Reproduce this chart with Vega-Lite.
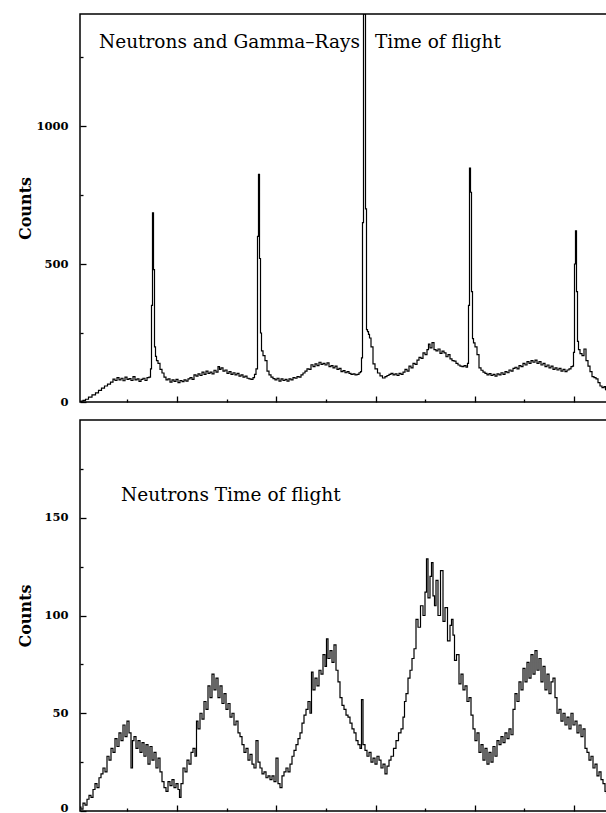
{
  "$schema": "https://vega.github.io/schema/vega-lite/v6.json",
  "background": "white",
  "padding": {"left": 16, "top": 13, "right": 1, "bottom": 1},
  "spacing": 10,
  "config": {
    "view": {"stroke": "black", "strokeWidth": 1.5},
    "axis": {"labelFont": "DejaVu Serif", "labelFontWeight": "bold", "labelFontSize": 11.5, "labelColor": "black", "titleFont": "DejaVu Serif", "titleFontWeight": "bold", "titleFontSize": 16, "titleColor": "black", "tickColor": "black", "tickWidth": 1.3, "grid": false, "domain": false}
  },
  "datasets": {
    "top": [
      {"channel":0,"counts":0},{"channel":4,"counts":3},{"channel":8,"counts":6},{"channel":14,"counts":10},{"channel":20,"counts":18},{"channel":28,"counts":26},{"channel":34,"counts":33},{"channel":40,"counts":42},{"channel":46,"counts":50},{"channel":52,"counts":58},{"channel":58,"counts":65},{"channel":64,"counts":72},{"channel":68,"counts":83},{"channel":72,"counts":78},{"channel":76,"counts":88},{"channel":80,"counts":80},{"channel":84,"counts":86},{"channel":88,"counts":77},{"channel":92,"counts":90},{"channel":96,"counts":82},{"channel":100,"counts":85},{"channel":104,"counts":78},{"channel":108,"counts":92},{"channel":112,"counts":80},{"channel":116,"counts":84},{"channel":120,"counts":75},{"channel":124,"counts":82},{"channel":128,"counts":86},{"channel":132,"counts":78},{"channel":136,"counts":88},{"channel":140,"counts":90},{"channel":142,"counts":120},{"channel":144,"counts":350},{"channel":146,"counts":685},{"channel":148,"counts":480},{"channel":150,"counts":200},{"channel":152,"counts":165},{"channel":154,"counts":150},{"channel":158,"counts":140},{"channel":162,"counts":118},{"channel":166,"counts":105},{"channel":170,"counts":90},{"channel":174,"counts":80},{"channel":178,"counts":84},{"channel":182,"counts":72},{"channel":186,"counts":80},{"channel":190,"counts":75},{"channel":194,"counts":82},{"channel":198,"counts":70},{"channel":202,"counts":78},{"channel":206,"counts":74},{"channel":210,"counts":80},{"channel":214,"counts":76},{"channel":218,"counts":84},{"channel":222,"counts":88},{"channel":226,"counts":82},{"channel":230,"counts":98},{"channel":234,"counts":94},{"channel":238,"counts":102},{"channel":242,"counts":96},{"channel":246,"counts":108},{"channel":250,"counts":100},{"channel":254,"counts":112},{"channel":258,"counts":104},{"channel":262,"counts":108},{"channel":266,"counts":102},{"channel":270,"counts":115},{"channel":274,"counts":108},{"channel":278,"counts":128},{"channel":280,"counts":118},{"channel":284,"counts":124},{"channel":288,"counts":112},{"channel":292,"counts":116},{"channel":296,"counts":104},{"channel":300,"counts":110},{"channel":304,"counts":100},{"channel":308,"counts":106},{"channel":312,"counts":98},{"channel":316,"counts":104},{"channel":320,"counts":94},{"channel":324,"counts":98},{"channel":328,"counts":90},{"channel":332,"counts":94},{"channel":336,"counts":86},{"channel":340,"counts":84},{"channel":344,"counts":82},{"channel":348,"counts":88},{"channel":350,"counts":100},{"channel":354,"counts":120},{"channel":356,"counts":600},{"channel":358,"counts":825},{"channel":360,"counts":520},{"channel":362,"counts":250},{"channel":364,"counts":185},{"channel":368,"counts":168},{"channel":372,"counts":150},{"channel":376,"counts":112},{"channel":380,"counts":98},{"channel":384,"counts":90},{"channel":388,"counts":85},{"channel":392,"counts":80},{"channel":396,"counts":86},{"channel":400,"counts":76},{"channel":404,"counts":84},{"channel":408,"counts":78},{"channel":412,"counts":82},{"channel":416,"counts":76},{"channel":420,"counts":84},{"channel":424,"counts":80},{"channel":428,"counts":88},{"channel":432,"counts":86},{"channel":436,"counts":92},{"channel":440,"counts":90},{"channel":444,"counts":98},{"channel":448,"counts":105},{"channel":452,"counts":112},{"channel":456,"counts":120},{"channel":460,"counts":118},{"channel":464,"counts":135},{"channel":468,"counts":128},{"channel":472,"counts":138},{"channel":476,"counts":132},{"channel":480,"counts":144},{"channel":484,"counts":136},{"channel":488,"counts":140},{"channel":492,"counts":134},{"channel":496,"counts":142},{"channel":500,"counts":128},{"channel":504,"counts":132},{"channel":508,"counts":124},{"channel":512,"counts":130},{"channel":516,"counts":118},{"channel":520,"counts":122},{"channel":524,"counts":110},{"channel":528,"counts":114},{"channel":532,"counts":106},{"channel":536,"counts":110},{"channel":540,"counts":104},{"channel":544,"counts":100},{"channel":548,"counts":102},{"channel":552,"counts":98},{"channel":556,"counts":100},{"channel":560,"counts":106},{"channel":562,"counts":110},{"channel":564,"counts":160},{"channel":566,"counts":650},{"channel":568,"counts":1406},{"channel":570,"counts":1406},{"channel":572,"counts":700},{"channel":574,"counts":262},{"channel":576,"counts":255},{"channel":578,"counts":245},{"channel":580,"counts":232},{"channel":584,"counts":200},{"channel":588,"counts":138},{"channel":592,"counts":120},{"channel":598,"counts":105},{"channel":602,"counts":95},{"channel":608,"counts":87},{"channel":612,"counts":92},{"channel":616,"counts":96},{"channel":620,"counts":100},{"channel":624,"counts":104},{"channel":628,"counts":98},{"channel":632,"counts":102},{"channel":636,"counts":96},{"channel":640,"counts":104},{"channel":644,"counts":100},{"channel":648,"counts":108},{"channel":652,"counts":118},{"channel":656,"counts":112},{"channel":660,"counts":130},{"channel":664,"counts":124},{"channel":668,"counts":140},{"channel":672,"counts":136},{"channel":676,"counts":152},{"channel":680,"counts":162},{"channel":684,"counts":158},{"channel":688,"counts":178},{"channel":692,"counts":172},{"channel":696,"counts":190},{"channel":698,"counts":210},{"channel":702,"counts":196},{"channel":706,"counts":215},{"channel":710,"counts":190},{"channel":714,"counts":185},{"channel":718,"counts":192},{"channel":722,"counts":176},{"channel":726,"counts":184},{"channel":730,"counts":178},{"channel":734,"counts":164},{"channel":738,"counts":172},{"channel":742,"counts":156},{"channel":746,"counts":150},{"channel":750,"counts":148},{"channel":754,"counts":140},{"channel":758,"counts":134},{"channel":762,"counts":130},{"channel":766,"counts":128},{"channel":770,"counts":132},{"channel":774,"counts":126},{"channel":776,"counts":140},{"channel":778,"counts":350},{"channel":780,"counts":848},{"channel":782,"counts":760},{"channel":784,"counts":400},{"channel":786,"counts":230},{"channel":788,"counts":214},{"channel":792,"counts":200},{"channel":796,"counts":172},{"channel":800,"counts":124},{"channel":804,"counts":115},{"channel":808,"counts":108},{"channel":812,"counts":104},{"channel":816,"counts":98},{"channel":820,"counts":103},{"channel":824,"counts":96},{"channel":828,"counts":100},{"channel":832,"counts":94},{"channel":836,"counts":102},{"channel":840,"counts":98},{"channel":844,"counts":106},{"channel":848,"counts":100},{"channel":852,"counts":110},{"channel":856,"counts":106},{"channel":860,"counts":116},{"channel":864,"counts":112},{"channel":868,"counts":122},{"channel":872,"counts":126},{"channel":876,"counts":120},{"channel":880,"counts":132},{"channel":884,"counts":128},{"channel":888,"counts":140},{"channel":892,"counts":134},{"channel":896,"counts":146},{"channel":900,"counts":140},{"channel":904,"counts":150},{"channel":908,"counts":144},{"channel":912,"counts":152},{"channel":916,"counts":140},{"channel":920,"counts":146},{"channel":924,"counts":134},{"channel":928,"counts":140},{"channel":932,"counts":128},{"channel":936,"counts":134},{"channel":940,"counts":124},{"channel":944,"counts":130},{"channel":948,"counts":118},{"channel":952,"counts":124},{"channel":956,"counts":116},{"channel":960,"counts":122},{"channel":964,"counts":112},{"channel":968,"counts":118},{"channel":972,"counts":110},{"channel":976,"counts":116},{"channel":980,"counts":120},{"channel":984,"counts":128},{"channel":986,"counts":130},{"channel":988,"counts":180},{"channel":990,"counts":500},{"channel":992,"counts":620},{"channel":994,"counts":400},{"channel":996,"counts":220},{"channel":998,"counts":190},{"channel":1002,"counts":175},{"channel":1006,"counts":168},{"channel":1010,"counts":192},{"channel":1014,"counts":150},{"channel":1018,"counts":130},{"channel":1022,"counts":110},{"channel":1026,"counts":92},{"channel":1030,"counts":88},{"channel":1034,"counts":84},{"channel":1038,"counts":70},{"channel":1042,"counts":58},{"channel":1046,"counts":52},{"channel":1050,"counts":56},{"channel":1052,"counts":45},{"channel":1054,"counts":42}
    ],
    "bottom": [
      {"channel":0,"counts":2},{"channel":4,"counts":1},{"channel":8,"counts":4},{"channel":12,"counts":3},{"channel":16,"counts":6},{"channel":20,"counts":8},{"channel":24,"counts":7},{"channel":28,"counts":11},{"channel":32,"counts":14},{"channel":36,"counts":12},{"channel":40,"counts":17},{"channel":44,"counts":19},{"channel":48,"counts":22},{"channel":52,"counts":20},{"channel":56,"counts":28},{"channel":60,"counts":26},{"channel":64,"counts":32},{"channel":68,"counts":30},{"channel":72,"counts":37},{"channel":76,"counts":33},{"channel":80,"counts":40},{"channel":84,"counts":36},{"channel":88,"counts":44},{"channel":92,"counts":38},{"channel":96,"counts":46},{"channel":100,"counts":40},{"channel":104,"counts":22},{"channel":106,"counts":36},{"channel":110,"counts":38},{"channel":114,"counts":32},{"channel":118,"counts":36},{"channel":122,"counts":30},{"channel":126,"counts":35},{"channel":130,"counts":28},{"channel":134,"counts":34},{"channel":138,"counts":24},{"channel":142,"counts":33},{"channel":146,"counts":26},{"channel":150,"counts":30},{"channel":154,"counts":22},{"channel":158,"counts":27},{"channel":162,"counts":20},{"channel":166,"counts":15},{"channel":170,"counts":12},{"channel":174,"counts":10},{"channel":178,"counts":15},{"channel":182,"counts":13},{"channel":186,"counts":16},{"channel":190,"counts":12},{"channel":194,"counts":14},{"channel":198,"counts":11},{"channel":200,"counts":7},{"channel":204,"counts":14},{"channel":208,"counts":22},{"channel":212,"counts":20},{"channel":216,"counts":26},{"channel":220,"counts":24},{"channel":224,"counts":30},{"channel":228,"counts":32},{"channel":232,"counts":28},{"channel":234,"counts":46},{"channel":238,"counts":42},{"channel":242,"counts":50},{"channel":246,"counts":47},{"channel":250,"counts":56},{"channel":254,"counts":52},{"channel":258,"counts":64},{"channel":262,"counts":58},{"channel":266,"counts":70},{"channel":270,"counts":62},{"channel":274,"counts":68},{"channel":278,"counts":58},{"channel":282,"counts":64},{"channel":286,"counts":55},{"channel":290,"counts":60},{"channel":294,"counts":52},{"channel":298,"counts":55},{"channel":302,"counts":48},{"channel":306,"counts":50},{"channel":310,"counts":44},{"channel":314,"counts":46},{"channel":318,"counts":40},{"channel":322,"counts":38},{"channel":326,"counts":34},{"channel":330,"counts":30},{"channel":334,"counts":32},{"channel":338,"counts":26},{"channel":342,"counts":29},{"channel":346,"counts":24},{"channel":350,"counts":22},{"channel":354,"counts":36},{"channel":358,"counts":25},{"channel":362,"counts":22},{"channel":366,"counts":19},{"channel":370,"counts":20},{"channel":374,"counts":17},{"channel":378,"counts":18},{"channel":382,"counts":16},{"channel":386,"counts":18},{"channel":390,"counts":15},{"channel":394,"counts":27},{"channel":398,"counts":14},{"channel":402,"counts":12},{"channel":406,"counts":18},{"channel":410,"counts":20},{"channel":414,"counts":22},{"channel":418,"counts":20},{"channel":422,"counts":24},{"channel":426,"counts":28},{"channel":430,"counts":31},{"channel":434,"counts":34},{"channel":438,"counts":37},{"channel":442,"counts":40},{"channel":446,"counts":45},{"channel":450,"counts":49},{"channel":454,"counts":52},{"channel":458,"counts":56},{"channel":462,"counts":50},{"channel":464,"counts":71},{"channel":468,"counts":62},{"channel":472,"counts":68},{"channel":476,"counts":64},{"channel":480,"counts":72},{"channel":484,"counts":70},{"channel":488,"counts":80},{"channel":492,"counts":74},{"channel":494,"counts":88},{"channel":498,"counts":78},{"channel":502,"counts":82},{"channel":506,"counts":76},{"channel":510,"counts":85},{"channel":514,"counts":72},{"channel":518,"counts":66},{"channel":522,"counts":58},{"channel":526,"counts":54},{"channel":530,"counts":52},{"channel":534,"counts":49},{"channel":538,"counts":48},{"channel":542,"counts":45},{"channel":546,"counts":42},{"channel":550,"counts":40},{"channel":554,"counts":36},{"channel":558,"counts":34},{"channel":562,"counts":32},{"channel":564,"counts":57},{"channel":568,"counts":34},{"channel":572,"counts":31},{"channel":576,"counts":28},{"channel":580,"counts":30},{"channel":584,"counts":25},{"channel":588,"counts":27},{"channel":592,"counts":24},{"channel":596,"counts":28},{"channel":600,"counts":26},{"channel":604,"counts":22},{"channel":608,"counts":24},{"channel":612,"counts":19},{"channel":616,"counts":23},{"channel":620,"counts":26},{"channel":624,"counts":28},{"channel":630,"counts":32},{"channel":634,"counts":36},{"channel":640,"counts":40},{"channel":644,"counts":42},{"channel":648,"counts":48},{"channel":650,"counts":56},{"channel":654,"counts":60},{"channel":658,"counts":68},{"channel":662,"counts":72},{"channel":666,"counts":78},{"channel":670,"counts":83},{"channel":674,"counts":98},{"channel":678,"counts":94},{"channel":684,"counts":105},{"channel":688,"counts":100},{"channel":692,"counts":112},{"channel":694,"counts":129},{"channel":698,"counts":109},{"channel":702,"counts":120},{"channel":704,"counts":127},{"channel":708,"counts":110},{"channel":710,"counts":105},{"channel":714,"counts":118},{"channel":718,"counts":100},{"channel":724,"counts":123},{"channel":728,"counts":97},{"channel":732,"counts":104},{"channel":738,"counts":87},{"channel":742,"counts":95},{"channel":744,"counts":98},{"channel":748,"counts":90},{"channel":750,"counts":77},{"channel":756,"counts":80},{"channel":760,"counts":65},{"channel":764,"counts":70},{"channel":768,"counts":62},{"channel":772,"counts":64},{"channel":776,"counts":56},{"channel":780,"counts":58},{"channel":784,"counts":49},{"channel":788,"counts":42},{"channel":792,"counts":36},{"channel":796,"counts":40},{"channel":800,"counts":30},{"channel":804,"counts":34},{"channel":808,"counts":26},{"channel":812,"counts":32},{"channel":816,"counts":24},{"channel":820,"counts":30},{"channel":824,"counts":25},{"channel":828,"counts":33},{"channel":832,"counts":28},{"channel":836,"counts":36},{"channel":840,"counts":34},{"channel":844,"counts":38},{"channel":848,"counts":35},{"channel":852,"counts":40},{"channel":856,"counts":37},{"channel":860,"counts":42},{"channel":864,"counts":39},{"channel":868,"counts":52},{"channel":872,"counts":60},{"channel":876,"counts":56},{"channel":880,"counts":66},{"channel":884,"counts":62},{"channel":888,"counts":73},{"channel":892,"counts":66},{"channel":896,"counts":76},{"channel":900,"counts":68},{"channel":904,"counts":80},{"channel":908,"counts":70},{"channel":912,"counts":82},{"channel":916,"counts":72},{"channel":920,"counts":78},{"channel":924,"counts":66},{"channel":928,"counts":74},{"channel":932,"counts":62},{"channel":936,"counts":70},{"channel":940,"counts":60},{"channel":944,"counts":66},{"channel":948,"counts":68},{"channel":952,"counts":58},{"channel":956,"counts":50},{"channel":960,"counts":52},{"channel":964,"counts":46},{"channel":968,"counts":50},{"channel":972,"counts":44},{"channel":976,"counts":48},{"channel":980,"counts":42},{"channel":984,"counts":50},{"channel":988,"counts":44},{"channel":992,"counts":46},{"channel":996,"counts":40},{"channel":1000,"counts":44},{"channel":1004,"counts":38},{"channel":1008,"counts":42},{"channel":1012,"counts":32},{"channel":1016,"counts":30},{"channel":1020,"counts":26},{"channel":1024,"counts":28},{"channel":1028,"counts":22},{"channel":1032,"counts":24},{"channel":1036,"counts":18},{"channel":1040,"counts":20},{"channel":1044,"counts":16},{"channel":1048,"counts":14},{"channel":1052,"counts":10},{"channel":1054,"counts":9}
    ]
  },
  "vconcat": [
    {
      "width": 527,
      "height": 388,
      "resolve": {"axis": {"x": "independent", "y": "independent"}},
      "layer": [
        {
          "data": {"name": "top"},
          "mark": {"type": "line", "interpolate": "step", "color": "black", "strokeWidth": 1.2, "clip": true},
          "encoding": {
            "x": {"field": "channel", "type": "quantitative", "scale": {"domain": [0, 1054], "nice": false, "zero": false},
                  "axis": {"orient": "bottom", "title": null, "labels": false, "values": [193, 392, 591, 789, 988], "tickSize": -6}},
            "y": {"field": "counts", "type": "quantitative", "scale": {"domain": [0, 1406], "nice": false},
                  "axis": {"orient": "left", "title": "Counts", "titleX": -47, "values": [0, 500, 1000], "format": "d", "ticks": false, "labelPadding": 12}}
          }
        },
        {
          "data": {"values": [{}]},
          "mark": {"type": "text", "align": "left", "baseline": "alphabetic", "font": "DejaVu Serif", "fontSize": 18.5, "color": "black"},
          "encoding": {
            "x": {"datum": 38, "axis": {"orient": "bottom", "title": null, "labels": false, "values": [94, 293, 491, 690, 888], "tickSize": -3}},
            "y": {"datum": 1284, "axis": {"orient": "left", "title": null, "labels": false, "values": [250, 750, 1250], "tickSize": -3}},
            "text": {"value": "Neutrons and Gamma–Rays"}
          }
        },
        {
          "data": {"values": [{}]},
          "mark": {"type": "text", "align": "left", "baseline": "alphabetic", "font": "DejaVu Serif", "fontSize": 18.5, "color": "black"},
          "encoding": {
            "x": {"datum": 590, "axis": null},
            "y": {"datum": 1284, "axis": {"orient": "left", "title": null, "labels": false, "values": [0, 500, 1000], "tickSize": -6}},
            "text": {"value": "Time of flight"}
          }
        }
      ]
    },
    {
      "width": 527,
      "height": 391,
      "resolve": {"axis": {"x": "independent", "y": "independent"}},
      "layer": [
        {
          "data": {"name": "bottom"},
          "mark": {"type": "line", "interpolate": "step", "color": "black", "strokeWidth": 1.2, "clip": true},
          "encoding": {
            "x": {"field": "channel", "type": "quantitative", "scale": {"domain": [0, 1054], "nice": false, "zero": false},
                  "axis": {"orient": "bottom", "title": null, "labels": false, "values": [193, 392, 591, 789, 988], "tickSize": -6}},
            "y": {"field": "counts", "type": "quantitative", "scale": {"domain": [0, 200], "nice": false},
                  "axis": {"orient": "left", "title": "Counts", "titleX": -47, "values": [0, 50, 100, 150], "format": "d", "ticks": false, "labelPadding": 12,
                           "labelBaseline": {"condition": {"test": "datum.value == 0", "value": "alphabetic"}, "value": "middle"}}}
          }
        },
        {
          "data": {"values": [{}]},
          "mark": {"type": "text", "align": "left", "baseline": "alphabetic", "font": "DejaVu Serif", "fontSize": 18.5, "color": "black"},
          "encoding": {
            "x": {"datum": 82, "axis": {"orient": "bottom", "title": null, "labels": false, "values": [94, 293, 491, 690, 888], "tickSize": -3}},
            "y": {"datum": 158.6, "axis": {"orient": "left", "title": null, "labels": false, "values": [25, 75, 125, 175], "tickSize": -3}},
            "text": {"value": "Neutrons Time of flight"}
          }
        },
        {
          "data": {"values": [{}]},
          "mark": {"type": "text", "text": ""},
          "encoding": {
            "x": {"datum": 82, "axis": null},
            "y": {"datum": 158.6, "axis": {"orient": "left", "title": null, "labels": false, "values": [0, 50, 100, 150], "tickSize": -6}}
          }
        }
      ]
    }
  ]
}
